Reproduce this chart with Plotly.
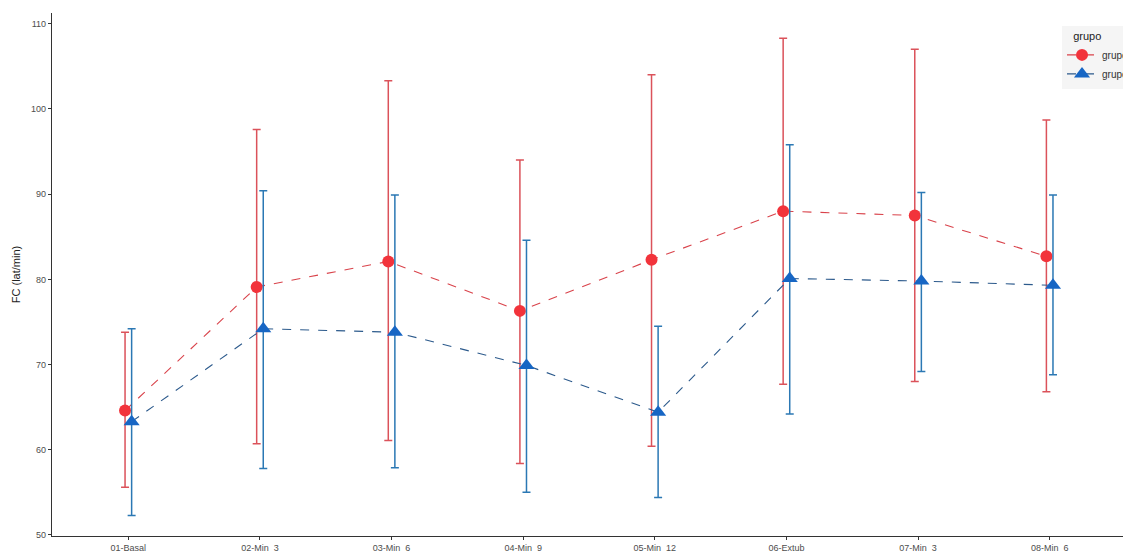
import plotly.graph_objects as go

categories = ["01-Basal", "02-Min  3", "03-Min  6", "04-Min  9", "05-Min  12",
              "06-Extub", "07-Min  3", "08-Min  6"]

g1_mean = [64.6, 79.1, 82.1, 76.3, 82.3, 88.0, 87.5, 82.7]
g1_low = [55.6, 60.7, 61.1, 58.4, 60.4, 67.7, 68.0, 66.8]
g1_high = [73.8, 97.6, 103.3, 94.0, 104.0, 108.3, 107.0, 98.7]

g2_mean = [63.3, 74.2, 73.8, 69.9, 64.4, 80.1, 79.8, 79.3]
g2_low = [52.3, 57.8, 57.9, 55.0, 54.4, 64.2, 69.2, 68.8]
g2_high = [74.2, 90.4, 89.9, 84.6, 74.5, 95.8, 90.2, 89.9]

group_names = ["grupo1", "grupo2"]
dodge = 0.025

idx = list(range(1, len(categories) + 1))

fig = go.Figure()

def add_group(name, mean, low, high, offset, mcol, ecol, lcol, symbol, msize):
    xs = [i + offset for i in idx]
    fig.add_trace(go.Scatter(
        x=xs, y=mean, name=name, mode="lines+markers",
        line=dict(color=lcol, width=1.1, dash="dash"),
        marker=dict(color=mcol, symbol=symbol, size=msize, line=dict(width=0)),
        error_y=dict(type="data", symmetric=False,
                     array=[h - m for h, m in zip(high, mean)],
                     arrayminus=[m - l for m, l in zip(mean, low)],
                     color=ecol, thickness=1.5, width=4),
    ))

add_group(group_names[0], g1_mean, g1_low, g1_high, -dodge,
          "#F2333B", "#DB525A", "#D9434B", "circle", 12)
add_group(group_names[1], g2_mean, g2_low, g2_high, dodge,
          "#1766C4", "#2B78B4", "#2C5A8C", "triangle-up", 14)

fig.update_layout(
    width=1131, height=556,
    margin=dict(l=44, r=0, t=5, b=28),
    paper_bgcolor="white", plot_bgcolor="white",
    font=dict(family="Liberation Sans, Arial, sans-serif", color="#4D4D4D", size=9),
    showlegend=True,
    legend=dict(
        title=dict(text="   grupo", font=dict(size=11, color="#222222")),
        x=0.939, y=0.975, xanchor="left", yanchor="top",
        bgcolor="#F5F5F5", font=dict(size=10, color="#333333"),
        itemwidth=30, tracegroupgap=0,
    ),
)

fig.update_xaxes(
    range=[0.42, 8.595], tickmode="array", tickvals=idx, ticktext=categories,
    showline=True, linecolor="#333333", linewidth=1.2,
    ticks="outside", ticklen=3, tickcolor="#333333", showgrid=False, zeroline=False,
    tickfont=dict(size=9, color="#4D4D4D"),
)
fig.update_yaxes(
    range=[49.88, 111.26], tickmode="array", tickvals=[50, 60, 70, 80, 90, 100, 110],
    showline=True, linecolor="#333333", linewidth=1.2,
    ticks="outside", ticklen=3, tickcolor="#333333", showgrid=False, zeroline=False,
    tickfont=dict(size=9, color="#4D4D4D"),
    title=dict(text="FC (lat/min)", font=dict(size=11, color="#222222"), standoff=8),
)

fig.write_html("out.html")
